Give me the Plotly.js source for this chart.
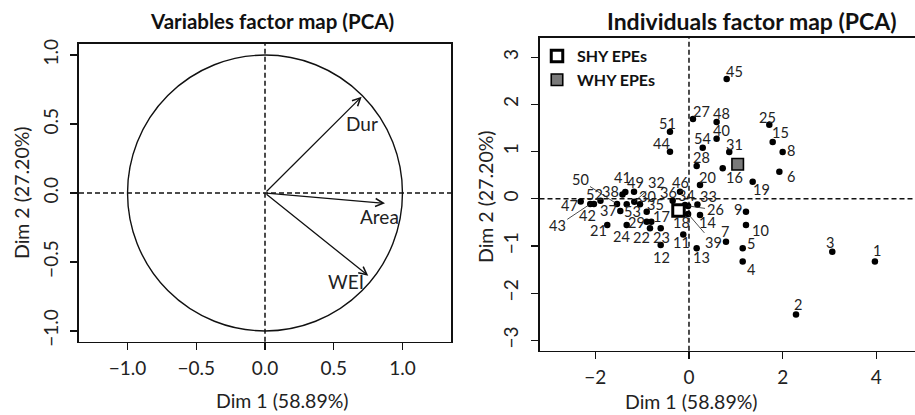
<!DOCTYPE html>
<html>
<head>
<meta charset="utf-8">
<script src="https://cdn.plot.ly/plotly-3.0.1.min.js"></script>
<style>
html,body{margin:0;padding:0;background:#fff;}
#chart{width:915px;height:415px;}
</style>
</head>
<body>
<div id="chart"></div>
<script>
// ---------- Variables factor map ----------
const varNames = ['Dur', 'Area', 'WEI'];
const varDim1 = [0.703, 0.873, 0.751];
const varDim2 = [0.698, -0.075, -0.600];

// ---------- Individuals factor map ----------
const indIds = ['1','2','3','4','5','6','7','8','9','10','11','12','13','14','15','16','17','18','19','20',
  '21','22','23','24','25','26','27','28','29','30','31','32','33','34','35','36','37','38','39','40',
  '41','42','43','44','45','46','47','48','49','50','51','52','53','54'];
const indDim1 = [3.97, 2.285, 3.06, 1.147, 1.147, 1.93, 0.79, 2.0, 1.217, 1.217,
  -0.122, -0.604, 0.164, 0.235, 1.787, 0.72, -0.805, -0.214, 1.36, 0.235,
  -1.745, -0.833, -0.604, -1.33, 1.715, -0.02, 0.085, 0.164, -0.903, -1.046,
  0.86, -1.168, 0.18, -0.085, -0.903, -0.348, -1.467, -1.42, -0.02, 0.59,
  -1.36, -2.03, -2.108, -0.406, 0.805, -0.192, -2.313, 0.59, -1.174, -1.537,
  -0.406, -1.89, -1.33, 0.293];
const indDim2 = [-1.33, -2.45, -1.12, -1.33, -1.05, 0.574, -0.909, 0.99, -0.273, -0.555,
  -0.756, -0.979, -1.05, -0.343, 1.203, 0.646, -0.485, -0.258, 0.362, 0.292,
  -0.555, -0.625, -0.625, -0.555, 1.57, -0.15, 1.69, 0.695, -0.485, -0.117,
  0.99, -0.061, -0.12, -0.13, -0.273, -0.04, -0.258, 0.091, -0.32, 1.273,
  0.144, -0.11, -0.11, 0.998, 2.54, 0.15, -0.057, 1.627, 0.15, -0.11,
  1.42, -0.04, -0.117, 1.083];

const groupNames = ['SHY EPEs', 'WHY EPEs'];
const groupDim1 = [-0.224, 1.04];
const groupDim2 = [-0.248, 0.731];

const leftTickVals = [-1.0, -0.5, 0.0, 0.5, 1.0];
const leftTickText = ['\u22121.0', '\u22120.5', '0.0', '0.5', '1.0'];
const rightXTickVals = [-2, 0, 2, 4];
const rightXTickText = ['\u22122', '0', '2', '4'];
const rightYTickVals = [-3, -2, -1, 0, 1, 2, 3];
const rightYTickText = ['\u22123', '\u22122', '\u22121', '0', '1', '2', '3'];

// ---------- styling / label placement (pixels) ----------
const FONT = 'Lato, "Open Sans", sans-serif';
const W = 915, H = 415;
const px = v => v / W;
const py = v => 1 - v / H;

const varLabelShift = { 'Dur': [0, -27], 'Area': [-6, -13], 'WEI': [-22, -6] };

const labelShift = {
  '1': [2, 11], '2': [2, 10], '3': [-2, 9], '4': [8, -8], '5': [8, 5], '6': [12, -5],
  '7': [-1, 10], '8': [8, 2], '9': [-8, 2], '10': [15, -5], '11': [-2, -8], '12': [1, -12],
  '13': [5, -9], '14': [8, -8], '15': [8, 10], '16': [12, -9], '17': [10, 5], '18': [3, -12],
  '19': [9, -8], '20': [8, 8], '21': [-9, -5], '22': [-8, -9], '23': [1, -9], '24': [-5, -11],
  '25': [-2, 7], '27': [9, 8], '28': [5, 9], '29': [-10, -1], '30': [7, 8], '31': [5, 8],
  '33': [11, 8], '34': [1, 9], '35': [9, 7], '36': [-4, 8], '37': [-12, 0], '38': [-12, 3],
  '40': [5, 8], '41': [-3, 15], '42': [-6, -12], '44': [-8, 8], '45': [8, 7], '46': [0, 9],
  '47': [-11, -4], '48': [5, 9], '49': [1, 9], '51': [-2, 8], '52': [-6, 6], '53': [6, -7],
  '54': [0, 9]
};
// labels joined to their point by a leader line: [ax, ay] in px (ay down)
const leaderShift = { '50': [-37, -24], '43': [-33, 22], '32': [22, -19], '26': [27, 4], '39': [25, 29] };

const traces = [];
traces.push({
  x: varDim1, y: varDim2, xaxis: 'x', yaxis: 'y', mode: 'markers',
  marker: { size: 1, color: 'rgba(0,0,0,0)' }, showlegend: false, hoverinfo: 'skip'
});
traces.push({
  x: indDim1, y: indDim2, text: indIds, xaxis: 'x2', yaxis: 'y2', mode: 'markers',
  marker: { size: 6.5, color: '#000' }, showlegend: false, hoverinfo: 'text'
});
traces.push({
  x: [groupDim1[0]], y: [groupDim2[0]], name: groupNames[0], xaxis: 'x2', yaxis: 'y2', mode: 'markers',
  marker: { symbol: 'square', size: 11.5, color: '#fff', line: { color: '#000', width: 3 } }
});
traces.push({
  x: [groupDim1[1]], y: [groupDim2[1]], name: groupNames[1], xaxis: 'x2', yaxis: 'y2', mode: 'markers',
  marker: { symbol: 'square', size: 11.5, color: '#7a7a7a', line: { color: '#000', width: 1.6 } }
});

const annotations = [];
varNames.forEach((n, i) => {
  annotations.push({
    xref: 'x', yref: 'y', axref: 'x', ayref: 'y',
    x: varDim1[i], y: varDim2[i], ax: 0, ay: 0, text: '',
    showarrow: true, arrowhead: 5, arrowsize: 1.2, arrowwidth: 1.3, arrowcolor: '#111'
  });
  annotations.push({
    xref: 'x', yref: 'y', x: varDim1[i], y: varDim2[i], text: n, showarrow: false,
    xshift: varLabelShift[n][0], yshift: varLabelShift[n][1],
    font: { family: FONT, size: 19, color: '#222' }
  });
});
const lblFont = { family: FONT, size: 14.5, color: '#222' };
indIds.forEach((id, i) => {
  if (leaderShift[id]) {
    annotations.push({
      xref: 'x2', yref: 'y2', x: indDim1[i], y: indDim2[i], text: id,
      showarrow: true, arrowhead: 0, arrowwidth: 0.8, arrowcolor: '#222',
      ax: leaderShift[id][0], ay: leaderShift[id][1], font: lblFont
    });
  } else {
    const s = labelShift[id] || [0, 9];
    annotations.push({
      xref: 'x2', yref: 'y2', x: indDim1[i], y: indDim2[i], text: id, showarrow: false,
      xshift: s[0], yshift: s[1], font: lblFont
    });
  }
});
const aFont = { family: FONT, size: 19.5, color: '#222' };
annotations.push({ xref: 'paper', yref: 'paper', x: px(272), y: py(21), text: '<b>Variables factor map (PCA)</b>', showarrow: false, font: { family: FONT, size: 20.5, color: '#111' }, xanchor: 'center', yanchor: 'middle' });
annotations.push({ xref: 'paper', yref: 'paper', x: px(752), y: py(21), text: '<b>Individuals factor map (PCA)</b>', showarrow: false, font: { family: FONT, size: 23, color: '#111' }, xanchor: 'center', yanchor: 'middle' });
annotations.push({ xref: 'paper', yref: 'paper', x: px(282), y: py(400), text: 'Dim 1 (58.89%)', showarrow: false, font: aFont, xanchor: 'center', yanchor: 'middle' });
annotations.push({ xref: 'paper', yref: 'paper', x: px(691), y: py(401), text: 'Dim 1 (58.89%)', showarrow: false, font: aFont, xanchor: 'center', yanchor: 'middle' });
annotations.push({ xref: 'paper', yref: 'paper', x: px(22), y: py(193), text: 'Dim 2 (27.20%)', showarrow: false, font: aFont, textangle: -90, xanchor: 'center', yanchor: 'middle' });
annotations.push({ xref: 'paper', yref: 'paper', x: px(485), y: py(197), text: 'Dim 2 (27.20%)', showarrow: false, font: aFont, textangle: -90, xanchor: 'center', yanchor: 'middle' });

const dashLine = { color: '#111', width: 1.5, dash: '5px,3px' };
const shapes = [
  { type: 'circle', xref: 'x', yref: 'y', x0: -1, y0: -1, x1: 1, y1: 1, line: { color: '#111', width: 1.4 } },
  { type: 'line', xref: 'x', yref: 'y domain', x0: 0, x1: 0, y0: 0, y1: 1, line: dashLine },
  { type: 'line', xref: 'x domain', yref: 'y', x0: 0, x1: 1, y0: 0, y1: 0, line: dashLine },
  { type: 'line', xref: 'x2', yref: 'y2 domain', x0: 0, x1: 0, y0: 0, y1: 1, line: dashLine, layer: 'below' },
  { type: 'line', xref: 'x2 domain', yref: 'y2', x0: 0, x1: 1, y0: 0, y1: 0, line: dashLine, layer: 'below' }
];

const axBase = {
  showgrid: false, zeroline: false, showline: true, linecolor: '#111', linewidth: 1.7,
  ticks: 'outside', ticklen: 7, tickwidth: 1.2, tickcolor: '#111',
  tickfont: { family: FONT, size: 19, color: '#222' }
};

const layout = {
  width: W, height: H,
  margin: { l: 0, r: 0, t: 0, b: 0 },
  paper_bgcolor: '#fff', plot_bgcolor: '#fff',
  showlegend: true,
  legend: {
    x: px(537), y: py(39), xanchor: 'left', yanchor: 'top',
    font: { family: FONT, size: 16, color: '#111', weight: 'bold' },
    bgcolor: 'rgba(0,0,0,0)', borderwidth: 0, itemclick: false
  },
  xaxis: Object.assign({}, axBase, {
    domain: [px(79), px(451)], range: [-1.353, 1.353], mirror: true,
    tickvals: leftTickVals, ticktext: leftTickText, anchor: 'y', ticklabelstandoff: 2
  }),
  yaxis: Object.assign({}, axBase, {
    domain: [py(341.7), py(44)], range: [-1.078, 1.08], mirror: true,
    tickvals: leftTickVals, ticktext: leftTickText, tickangle: -90, anchor: 'x', ticklabelstandoff: 5
  }),
  xaxis2: Object.assign({}, axBase, {
    domain: [px(539.5), 1], range: [-3.192, 4.826], mirror: true,
    tickvals: rightXTickVals, ticktext: rightXTickText, anchor: 'y2', ticklabelstandoff: 2
  }),
  yaxis2: Object.assign({}, axBase, {
    domain: [py(350.7), py(38)], range: [-3.218, 3.407], mirror: false,
    tickvals: rightYTickVals, ticktext: rightYTickText, tickangle: -90, anchor: 'x2', ticklabelstandoff: 5
  }),
  annotations: annotations,
  shapes: shapes
};

Plotly.newPlot('chart', traces, layout, { displayModeBar: false, staticPlot: true });
</script>
</body>
</html>
